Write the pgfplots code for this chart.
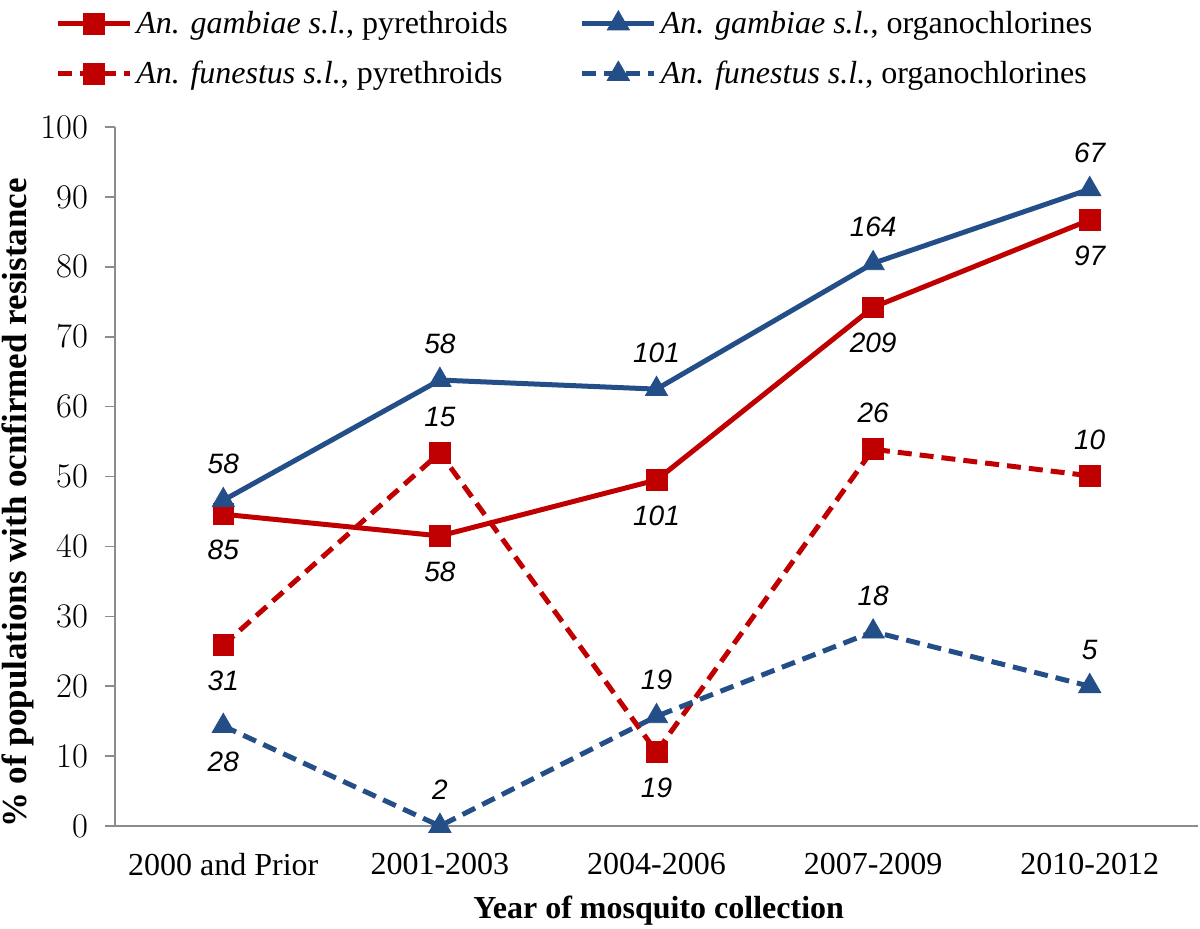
\documentclass[border=0pt]{standalone}
\usepackage{fontspec}
\setmainfont{Liberation Serif}
\newfontfamily\lsans{Liberation Sans}
\usepackage{pgfplots}
\usepackage{pgfplotstable}
\pgfplotsset{compat=1.18}
\definecolor{cred}{RGB}{192,0,0}
\definecolor{cblue}{RGB}{35,78,135}
\definecolor{axgray}{RGB}{140,140,140}

% series values
\pgfplotstableread{
x y
0 44.6
1 41.5
2 49.5
3 74.2
4 86.7
}\gampyr
\pgfplotstableread{
x y
0 46.6
1 63.8
2 62.5
3 80.5
4 91.1
}\gamorg
\pgfplotstableread{
x y
0 25.9
1 53.4
2 10.6
3 53.9
4 50.1
}\funpyr
\pgfplotstableread{
x y
0 14.3
1 0.0
2 15.7
3 27.8
4 20.0
}\funorg
% sample sizes shown above the points
\pgfplotstableread{
x y lab
0 46.6 58
1 63.8 58
2 62.5 101
3 80.5 164
4 91.1 67
1 53.4 15
3 53.9 26
4 50.1 10
1 0.0 2
2 15.7 19
3 27.8 18
4 20.0 5
}\lababove
% sample sizes shown below the points
\pgfplotstableread{
x y lab
0 44.6 85
1 41.5 58
2 49.5 101
3 74.2 209
4 86.7 97
0 25.9 31
2 10.6 19
0 14.3 28
}\labbelow

\begin{document}
\begin{tikzpicture}
\begin{axis}[
  scale only axis,
  width=541.5pt, height=349.5pt,
  xmin=-0.5, xmax=4.5,
  ymin=0, ymax=100,
  clip=false,
  axis x line*=bottom,
  axis y line*=left,
  axis line style={draw=axgray, line width=0.8pt},
  xtick={0,1,2,3,4},
  xticklabels={2000 and Prior,2001-2003,2004-2006,2007-2009,2010-2012},
  major x tick style={draw=none},
  extra x ticks={-0.5,0.5,1.5,2.5,3.5,4.5},
  extra x tick labels={},
  extra x tick style={major tick length=5pt, tick style={draw=axgray, line width=0.8pt}, tick align=outside},
  ytick={0,10,...,100},
  tick align=outside,
  major tick length=5pt,
  y tick style={draw=axgray, line width=0.8pt},
  tick label style={font=\fontsize{16}{19}\selectfont},
  xticklabel style={yshift=-5pt},
  yticklabel style={xshift=-5pt},
  xlabel={\bfseries Year of mosquito collection},
  ylabel={\bfseries \% of populations with ocnfirmed resistance},
  xlabel style={font=\fontsize{16}{19}\selectfont, at={(axis description cs:0.502,-0.121)}, anchor=center},
  ylabel style={font=\fontsize{17.5}{20}\selectfont, at={(axis description cs:-0.0896,0.462)}, anchor=center},
  legend style={at={(axis description cs:-0.061,1.178)}, anchor=north west, draw=none, fill=none,
    font=\fontsize{16}{19}\selectfont, row sep=8.5pt,
    /tikz/every even column/.append style={column sep=34pt}},
  legend columns=2,
  legend cell align=left,
  legend image code/.code={\draw[mark repeat=2,mark phase=2] plot coordinates {(0pt,0pt)(18pt,0pt)(36pt,0pt)};},
]
\addplot[cred, line width=2.5pt, mark=square*, mark size=5.2pt, mark options={solid, line width=0.4pt}] table[x=x,y=y] {\gampyr};
\addlegendentry{\textit{An. gambiae s.l.}, pyrethroids}
\addplot[cblue, line width=2.5pt, mark=triangle*, mark size=6.4pt, mark options={solid, line width=0.4pt}] table[x=x,y=y] {\gamorg};
\addlegendentry{\textit{An. gambiae s.l.}, organochlorines}
\addplot[cred, line width=2.5pt, dash pattern=on 7pt off 4pt, mark=square*, mark size=5.2pt, mark options={solid, line width=0.4pt}] table[x=x,y=y] {\funpyr};
\addlegendentry{\textit{An. funestus s.l.}, pyrethroids}
\addplot[cblue, line width=2.5pt, dash pattern=on 7pt off 4pt, mark=triangle*, mark size=6.4pt, mark options={solid, line width=0.4pt}] table[x=x,y=y] {\funorg};
\addlegendentry{\textit{An. funestus s.l.}, organochlorines}

\addplot[forget plot, only marks, mark=none, point meta=explicit symbolic, nodes near coords,
  every node near coord/.append style={anchor=center, yshift=18pt, font=\lsans\itshape\fontsize{14}{16}\selectfont, text=black}]
  table[x=x,y=y,meta=lab] {\lababove};
\addplot[forget plot, only marks, mark=none, point meta=explicit symbolic, nodes near coords,
  every node near coord/.append style={anchor=center, yshift=-18pt, font=\lsans\itshape\fontsize{14}{16}\selectfont, text=black}]
  table[x=x,y=y,meta=lab] {\labbelow};
\end{axis}
\pgfresetboundingbox
\path[use as bounding box] ([xshift=-57.5pt,yshift=-51pt]current axis.south west) rectangle ([xshift=1pt,yshift=63.5pt]current axis.north east);
\end{tikzpicture}
\end{document}
